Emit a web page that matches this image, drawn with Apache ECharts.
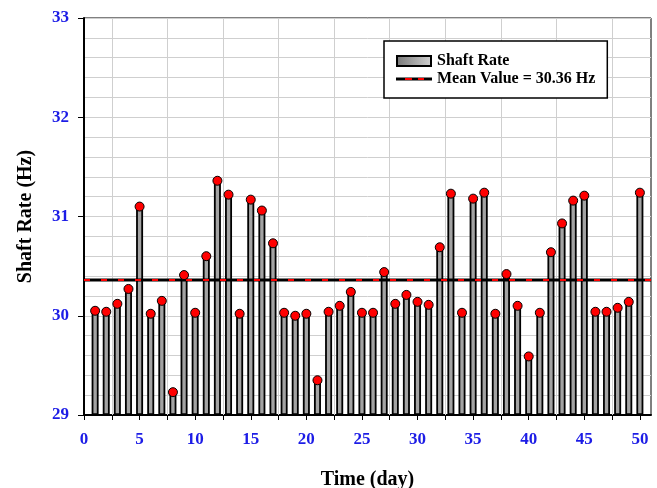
<!DOCTYPE html>
<html>
<head>
<meta charset="utf-8">
<script src="https://cdn.jsdelivr.net/npm/echarts@6/dist/echarts.min.js"></script>
<style>
  html, body { margin: 0; padding: 0; background: #fff; }
  #chart { width: 657px; height: 488px; }
</style>
</head>
<body>
<div id="chart"></div>
<script>
// Daily shaft rate readings (Hz)
const days = [1, 2, 3, 4, 5, 6, 7, 8, 9, 10,
              11, 12, 13, 14, 15, 16, 17, 18, 19, 20,
              21, 22, 23, 24, 25, 26, 27, 28, 29, 30,
              31, 32, 33, 34, 35, 36, 37, 38, 39, 40,
              41, 42, 43, 44, 45, 46, 47, 48, 49, 50];
const shaftRate = [30.05, 30.04, 30.12, 30.27, 31.10, 30.02, 30.15, 29.23, 30.41, 30.03,
                   30.60, 31.36, 31.22, 30.02, 31.17, 31.06, 30.73, 30.03, 30.00, 30.02,
                   29.35, 30.04, 30.10, 30.24, 30.03, 30.03, 30.44, 30.12, 30.21, 30.14,
                   30.11, 30.69, 31.23, 30.03, 31.18, 31.24, 30.02, 30.42, 30.10, 29.59,
                   30.03, 30.64, 30.93, 31.16, 31.21, 30.04, 30.04, 30.08, 30.14, 31.24];
const meanValue = 30.36;
const meanSpan = [0, 51];

// Axis ticks, labels and vertical grid positions
const xLabelValues = [0, 5, 10, 15, 20, 25, 30, 35, 40, 45, 50];
const xTickValues = [0, 2.5, 5, 7.5, 10, 12.5, 15, 17.5, 20, 22.5, 25, 27.5, 30,
                     32.5, 35, 37.5, 40, 42.5, 45, 47.5, 50];
const xGridValues = [2.5, 7.5, 12.5, 17.5, 22.5, 27.5, 32.5, 37.5, 42.5, 47.5];

const seriesNames = ['Shaft Rate', 'Mean Value = 30.36 Hz'];

const serif = "'Liberation Serif', 'DejaVu Serif', serif";
const labelBlue = '#1c1ce6';
const gridGray = '#cfcfcf';

function svgIcon(svg) {
  return 'image://data:image/svg+xml;charset=utf-8,' + encodeURIComponent(svg);
}
const barIcon = svgIcon(
  '<svg xmlns="http://www.w3.org/2000/svg" width="36" height="12">' +
  '<defs><linearGradient id="g" x1="0" y1="0" x2="1" y2="0">' +
  '<stop offset="0" stop-color="#7a7a7a"/><stop offset="1" stop-color="#cfcfcf"/></linearGradient></defs>' +
  '<rect x="1" y="1" width="34" height="10" fill="url(#g)" stroke="#000" stroke-width="2"/></svg>');
const meanIcon = svgIcon(
  '<svg xmlns="http://www.w3.org/2000/svg" width="36" height="12">' +
  '<rect x="0" y="4.5" width="36" height="3" fill="#000"/>' +
  '<rect x="9" y="5" width="7" height="2" fill="#ff0000"/>' +
  '<rect x="22" y="5" width="6" height="2" fill="#ff0000"/></svg>');

const barData = days.map((d, i) => [d, shaftRate[i]]);
const meanData = meanSpan.map(x => [x, meanValue]);

const chart = echarts.init(document.getElementById('chart'), null, { renderer: 'canvas' });
chart.setOption({
  animation: false,
  backgroundColor: '#fff',
  grid: {
    left: 84, right: 6, top: 18, bottom: 73,
    outerBoundsMode: 'none',
    containLabel: false,
    show: true, borderColor: '#000', borderWidth: 1, backgroundColor: 'transparent'
  },
  legend: {
    orient: 'vertical',
    left: 384, top: 41,
    padding: [12, 12, 11, 12],
    itemWidth: 36, itemHeight: 12, itemGap: 2, itemTextGap: 9,
    backgroundColor: '#fff',
    borderColor: '#000', borderWidth: 1.5,
    selectedMode: false,
    textStyle: { fontFamily: serif, fontWeight: 'bold', fontSize: 16, color: '#000', lineHeight: 16 },
    data: [
      { name: seriesNames[0], icon: barIcon },
      { name: seriesNames[1], icon: meanIcon }
    ]
  },
  xAxis: {
    type: 'value', min: 0, max: 51, interval: 5,
    name: 'Time (day)', nameLocation: 'middle', nameGap: 55,
    nameTextStyle: { fontFamily: serif, fontWeight: 'bold', fontSize: 20, color: '#000' },
    axisLine: { show: true, onZero: false, lineStyle: { color: '#000', width: 2 } },
    axisTick: { show: true, inside: false, length: 5, customValues: xTickValues, lineStyle: { color: '#000', width: 1 } },
    axisLabel: { customValues: xLabelValues, margin: 16, fontFamily: serif, fontWeight: 'bold', fontSize: 17, color: labelBlue },
    splitLine: { show: false }
  },
  yAxis: {
    type: 'value', min: 29, max: 33, interval: 1, startValue: 29,
    name: 'Shaft Rate (Hz)', nameLocation: 'middle', nameGap: 48,
    nameTextStyle: { fontFamily: serif, fontWeight: 'bold', fontSize: 20, color: '#000' },
    axisLine: { show: true, onZero: false, lineStyle: { color: '#000', width: 2 } },
    axisTick: { show: true, inside: false, length: 6, lineStyle: { color: '#000', width: 1 } },
    axisLabel: { margin: 15, fontFamily: serif, fontWeight: 'bold', fontSize: 17, color: labelBlue },
    splitLine: { show: true, lineStyle: { color: gridGray, width: 1 } },
    minorTick: { show: false, splitNumber: 5 },
    minorSplitLine: { show: true, lineStyle: { color: gridGray, width: 1 } }
  },
  series: [
    {
      name: seriesNames[0],
      type: 'bar',
      data: barData,
      barWidth: 7,
      itemStyle: { color: '#a3a3a3', borderColor: '#000', borderWidth: 1.8 },
      z: 2,
      // vertical grid lines midway between the labelled days, kept under the bars
      markLine: {
        silent: true,
        z: 1,
        symbol: ['none', 'none'],
        label: { show: false },
        emphasis: { disabled: true },
        lineStyle: { color: gridGray, width: 1, type: 'solid' },
        data: xGridValues.map(v => ({ xAxis: v }))
      }
    },
    {
      name: seriesNames[1],
      type: 'line',
      data: meanData,
      symbol: 'none',
      lineStyle: { color: '#000', width: 3 },
      itemStyle: { color: '#000' },
      z: 3
    },
    {
      name: 'meanDash',
      type: 'line',
      data: meanData,
      symbol: 'none',
      silent: true,
      lineStyle: { color: '#ff0000', width: 2, type: [6, 11], dashOffset: 0 },
      z: 4
    },
    {
      name: 'points',
      type: 'scatter',
      data: barData,
      symbol: 'circle',
      symbolSize: 9,
      itemStyle: { color: '#ff0000', borderColor: '#000', borderWidth: 1, opacity: 1 },
      z: 5
    }
  ]
});
</script>
</body>
</html>
